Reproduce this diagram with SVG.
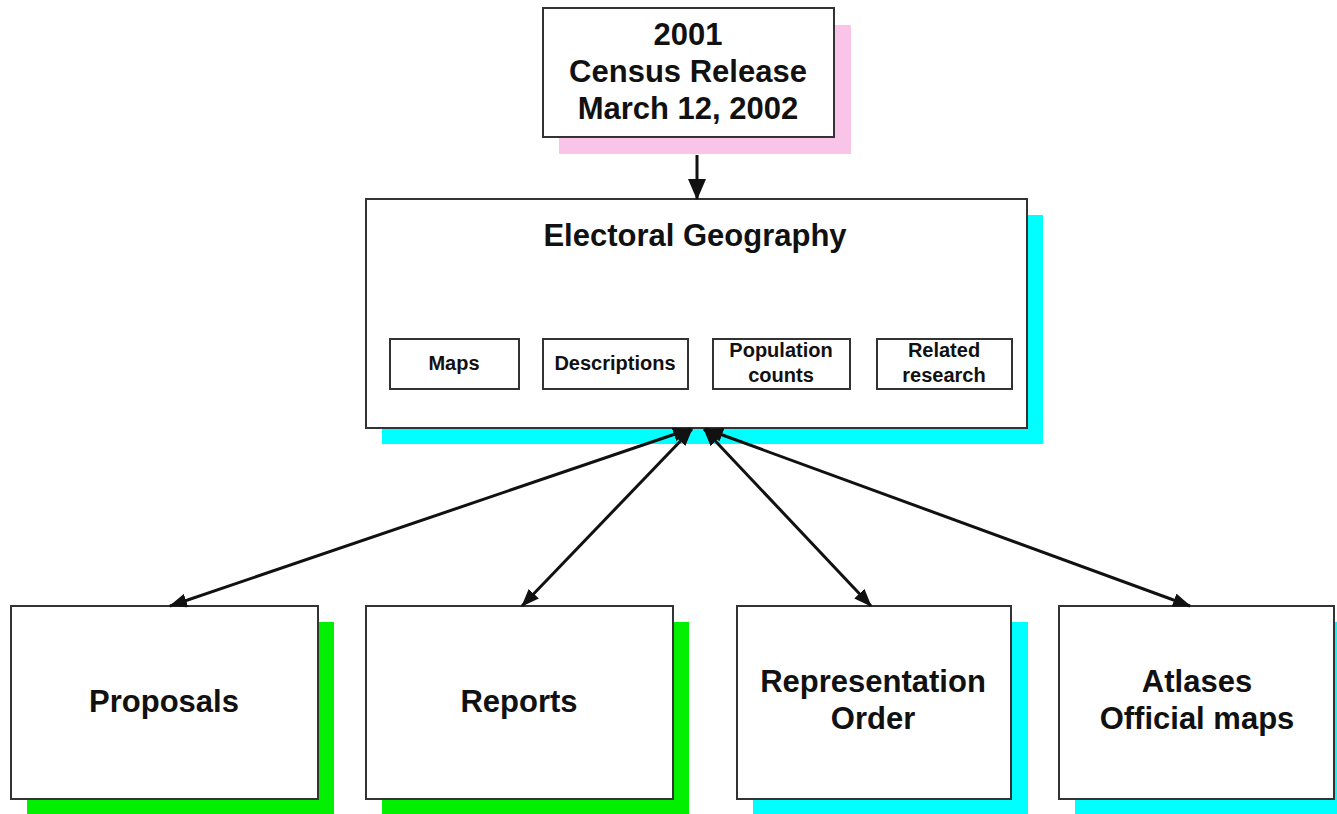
<svg xmlns="http://www.w3.org/2000/svg" width="1337" height="814" viewBox="0 0 1337 814">
<style>
  .box { fill: #ffffff; stroke: #333333; stroke-width: 2; }
  .sub { fill: #ffffff; stroke: #333333; stroke-width: 2; }
  .pink { fill: #F9C4E8; }
  .cyan { fill: #00FFFF; }
  .green { fill: #00F000; }
  .t { font-family: "Liberation Sans", Arial, sans-serif; font-weight: bold; fill: #111111; text-anchor: middle; }
  .big { font-size: 31px; }
  .small { font-size: 20px; }
  .conn { stroke: #111111; stroke-width: 3; fill: none; }
</style>
<defs>
  <marker id="ah" viewBox="0 0 18 14" refX="17" refY="7" markerWidth="18" markerHeight="14" markerUnits="userSpaceOnUse" orient="auto-start-reverse">
    <path d="M0,0 L18,7 L0,14 z" fill="#111111"/>
  </marker>
  <marker id="ahBig" viewBox="0 0 21 18" refX="20" refY="9" markerWidth="21" markerHeight="18" markerUnits="userSpaceOnUse" orient="auto">
    <path d="M0,0 L21,9 L0,18 z" fill="#111111"/>
  </marker>
</defs>
<rect width="1337" height="814" fill="#ffffff"/>

<g id="census">
  <rect class="pink" x="559" y="25" width="292" height="129"/>
  <rect class="box" x="543" y="8" width="291" height="129"/>
  <text class="t big" x="688" y="45">2001</text>
  <text class="t big" x="688" y="82">Census Release</text>
  <text class="t big" x="688" y="119">March 12, 2002</text>
</g>

<g id="electoral">
  <rect class="cyan" x="382" y="215" width="661" height="229"/>
  <rect class="box" x="366" y="199" width="661" height="229"/>
  <text class="t big" x="695" y="246">Electoral Geography</text>
</g>
<g id="maps">
  <rect class="sub" x="390" y="339" width="129" height="50"/>
  <text class="t small" x="454" y="370">Maps</text>
</g>
<g id="descriptions">
  <rect class="sub" x="543" y="339" width="145" height="50"/>
  <text class="t small" x="615" y="370">Descriptions</text>
</g>
<g id="population">
  <rect class="sub" x="713" y="339" width="137" height="50"/>
  <text class="t small" x="781" y="357">Population</text>
  <text class="t small" x="781" y="382">counts</text>
</g>
<g id="research">
  <rect class="sub" x="877" y="339" width="135" height="50"/>
  <text class="t small" x="944" y="357">Related</text>
  <text class="t small" x="944" y="382">research</text>
</g>

<g id="proposals">
  <rect class="green" x="27" y="622" width="307" height="193"/>
  <rect class="box" x="11" y="606" width="307" height="193"/>
  <text class="t big" x="164" y="712">Proposals</text>
</g>
<g id="reports">
  <rect class="green" x="382" y="622" width="307" height="193"/>
  <rect class="box" x="366" y="606" width="307" height="193"/>
  <text class="t big" x="519" y="712">Reports</text>
</g>
<g id="representation">
  <rect class="cyan" x="753" y="622" width="275" height="193"/>
  <rect class="box" x="737" y="606" width="274" height="193"/>
  <text class="t big" x="873" y="692">Representation</text>
  <text class="t big" x="873" y="729">Order</text>
</g>
<g id="atlases">
  <rect class="cyan" x="1075" y="622" width="275" height="193"/>
  <rect class="box" x="1059" y="606" width="275" height="193"/>
  <text class="t big" x="1197" y="692">Atlases</text>
  <text class="t big" x="1197" y="729">Official maps</text>
</g>

<g id="connectors">
  <line class="conn" x1="697" y1="155" x2="697" y2="199" marker-end="url(#ahBig)"/>
  <line class="conn" x1="690" y1="429" x2="170" y2="606" marker-start="url(#ah)" marker-end="url(#ah)"/>
  <line class="conn" x1="692" y1="429" x2="522" y2="606" marker-start="url(#ah)" marker-end="url(#ah)"/>
  <line class="conn" x1="704" y1="429" x2="871" y2="606" marker-start="url(#ah)" marker-end="url(#ah)"/>
  <line class="conn" x1="706" y1="429" x2="1190" y2="606" marker-start="url(#ah)" marker-end="url(#ah)"/>
</g>
</svg>
